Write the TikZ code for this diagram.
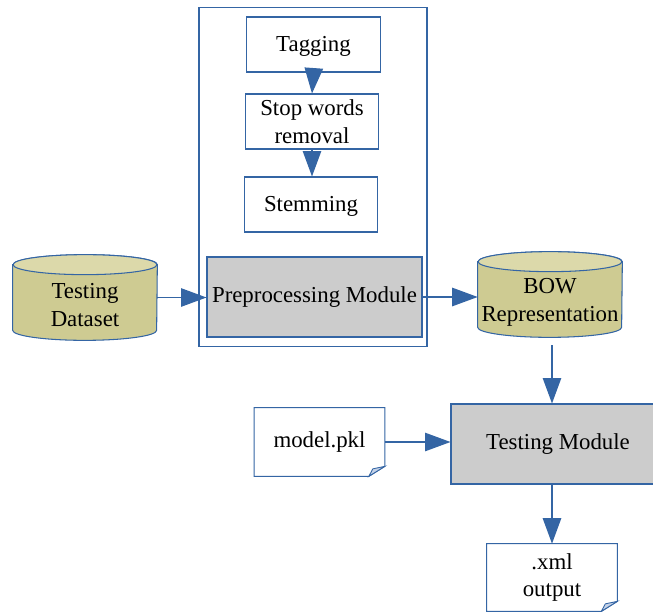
\documentclass[tikz,border=0pt]{standalone}
\usepackage{fontspec}
\setmainfont{Liberation Serif}
\usetikzlibrary{arrows.meta,backgrounds}
\definecolor{lineblue}{RGB}{52,101,164}
\definecolor{khaki}{RGB}{206,203,146}
\definecolor{khakitop}{RGB}{220,217,170}
\definecolor{modgray}{RGB}{204,204,204}
\definecolor{foldblue}{RGB}{196,210,232}

% cylinder outline drawn behind a named (invisible) node
\newcommand\drumshape[1]{%
  \begin{pgfonlayer}{background}
    \path[draw=lineblue, fill=khaki, line width=0.6pt]
      ([yshift=-0.2cm]#1.north west) -- ([yshift=0.2cm]#1.south west)
      arc[start angle=180, end angle=360, x radius=1.44cm, y radius=0.2cm]
      -- ([yshift=-0.2cm]#1.north east)
      arc[start angle=0, end angle=180, x radius=1.44cm, y radius=0.2cm] -- cycle;
    \path[draw=lineblue, fill=khakitop, line width=0.6pt]
      ([yshift=-0.2cm]#1.north) ellipse[x radius=1.44cm, y radius=0.2cm];
  \end{pgfonlayer}}

% document sheet with a folded bottom-right corner
\newcommand\docshape[1]{%
  \begin{pgfonlayer}{background}
    \path[draw=lineblue, fill=white, line width=0.6pt]
      (#1.north west) -- (#1.north east) -- ([yshift=0.2cm]#1.south east)
      -- ([xshift=-0.32cm]#1.south east) -- (#1.south west) -- cycle;
    \path[draw=lineblue, fill=foldblue, line width=0.5pt]
      ([xshift=-0.32cm]#1.south east) -- ([xshift=-0.24cm,yshift=0.15cm]#1.south east)
      -- ([yshift=0.2cm]#1.south east) -- cycle;
  \end{pgfonlayer}}

\begin{document}
\begin{tikzpicture}[x=0.02cm, y=-0.02cm,
  every node/.style={font=\fontsize{13}{15.8}\selectfont, align=center, inner sep=0pt},
  stagebox/.style={draw=lineblue, line width=0.6pt, fill=white,
    minimum width=2.67cm, minimum height=1.1cm},
  lowtext/.style={text height=11pt, text depth=2.5pt},
  modulebox/.style={draw=lineblue, line width=0.6pt, fill=modgray},
  drumbox/.style={minimum width=2.88cm, minimum height=1.7cm},
  docbox/.style={minimum width=2.6cm, minimum height=1.36cm},
  flow/.style={draw=lineblue, line width=0.7pt,
    -{Triangle[length=14.5pt, width=10.5pt]}}]

\useasboundingbox (0,0) rectangle (653,612);

% preprocessing frame
\node[draw=lineblue, line width=0.6pt, minimum width=4.56cm, minimum height=6.8cm]
  (frame) at (313,177) {};

% pipeline stages
\node[stagebox, lowtext] (tag)  at (313.5,44.5) {Tagging};
\node[stagebox] (stop) at (312,121.5)  {Stop words\\removal};
\node[stagebox, lowtext] (stem) at (311,204.5)  {Stemming};
\node[modulebox, minimum width=4.3cm, minimum height=1.6cm]
  (pre) at (314.5,297) {Preprocessing Module};

% data stores
\node[drumbox] (ds)  at (85,297.5) {};
\node (dstext) at (85,305) {Testing\\Dataset};
\drumshape{ds}
\node[drumbox] (bow) at (550,294.5) {};
\node (bowtext) at (550,302) {BOW\\Representation};
\drumshape{bow}

% testing stage (runs past the right edge of the page)
\node[modulebox, minimum width=4.28cm, minimum height=1.6cm]
  (test) at (558,444) {Testing Module};
\node[docbox] (model) at (319.5,442) {model.pkl};
\docshape{model}
\node[docbox, minimum height=1.34cm] (xml) at (552,577.5) {.xml\\output};
\docshape{xml}

% connectors
\draw[flow] (tag.south) -- (stop.north);
\draw[flow] (stop.south) -- (stop.south |- stem.north);
\draw[flow] (ds.east) -- (ds.east -| pre.west);
\draw[flow] (pre.east) -- (pre.east -| bow.west);
\draw[flow] ([xshift=0.04cm, yshift=-0.16cm]bow.south) -- ([xshift=0.04cm]bow.south |- test.north);
\draw[flow] (model.east) -- (model.east -| test.west);
\draw[flow] (xml.north |- test.south) -- (xml.north);
\end{tikzpicture}
\end{document}
